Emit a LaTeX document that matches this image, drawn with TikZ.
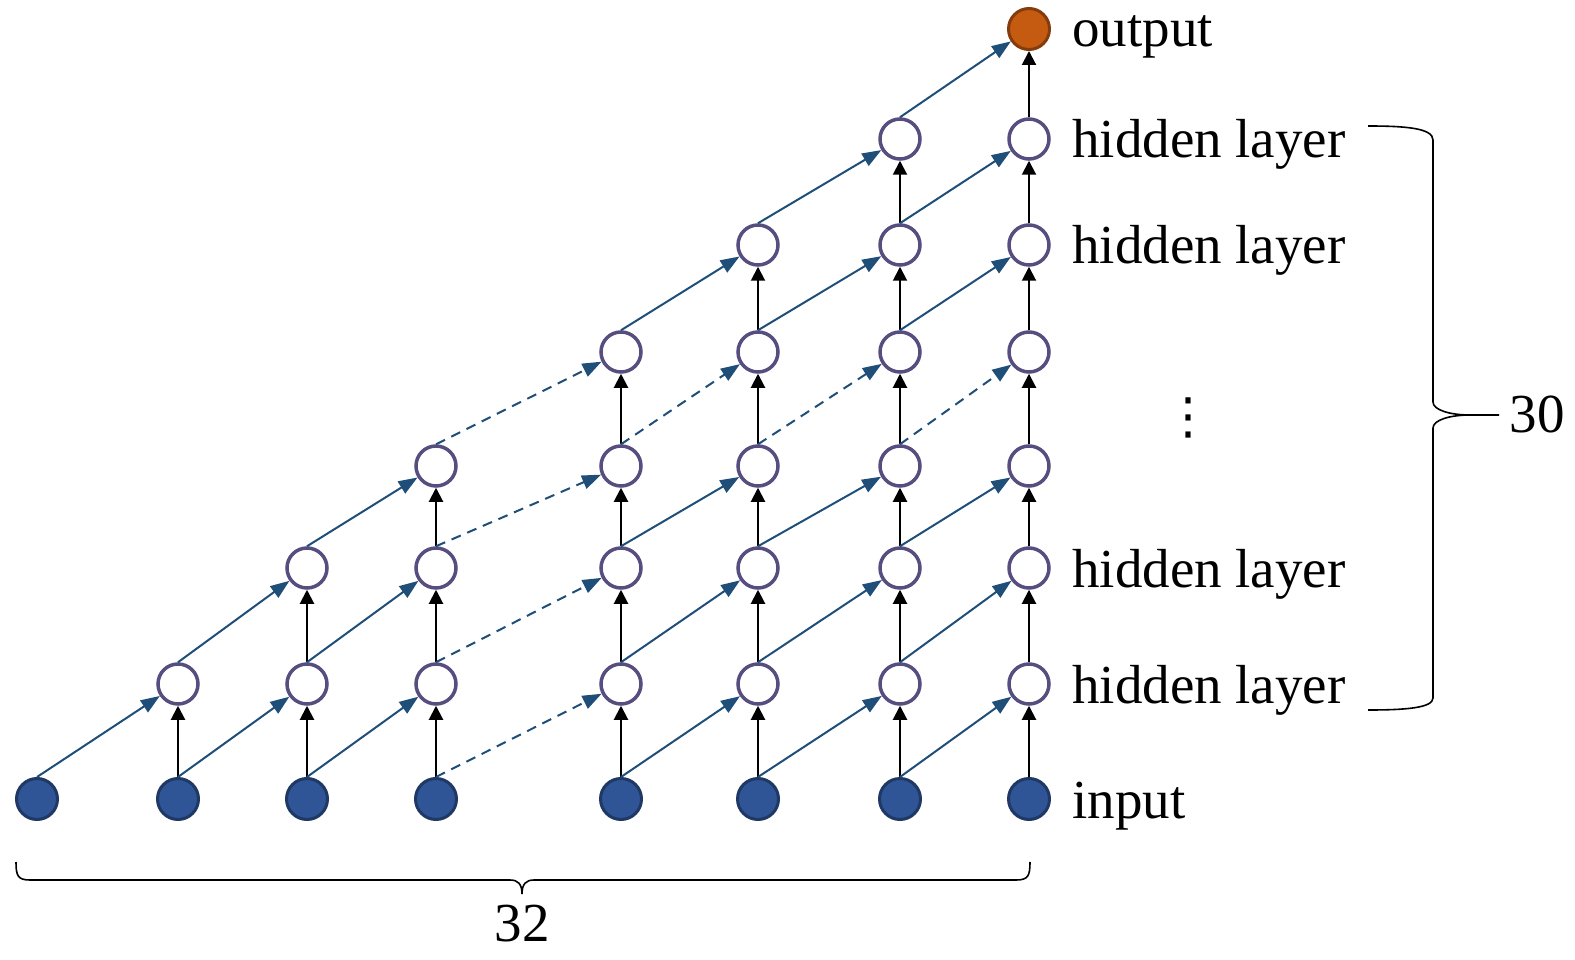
\documentclass[tikz,border=0pt]{standalone}
\usepackage{fontspec}
\setmainfont{Liberation Serif}
\newfontfamily\dvsans{DejaVu Sans}
\usetikzlibrary{arrows.meta}
\definecolor{arrblue}{RGB}{31,78,121}
\definecolor{hidborder}{RGB}{87,77,127}
\definecolor{inpfill}{RGB}{47,85,151}
\definecolor{inpborder}{RGB}{31,56,100}
\definecolor{outfill}{RGB}{197,90,17}
\definecolor{outborder}{RGB}{132,60,12}
\begin{document}
\begin{tikzpicture}[x=1pt,y=-1pt,
  hid/.style={circle,draw=hidborder,fill=white,line width=3.5pt,minimum size=40pt,inner sep=0pt},
  inp/.style={circle,draw=inpborder,fill=inpfill,line width=3pt,minimum size=41pt,inner sep=0pt},
  outp/.style={circle,draw=outborder,fill=outfill,line width=3pt,minimum size=41pt,inner sep=0pt},
  varr/.style={draw=black,line width=2pt,-{Triangle[length=14pt,width=14pt]}},
  darr/.style={draw=arrblue,line width=2pt,-{Triangle[length=19pt,width=14pt]}},
  dsh/.style={dash pattern=on 10pt off 7pt},
  lbl/.style={anchor=base west,inner sep=0pt,font=\fontsize{55}{66}\selectfont},
  brc/.style={draw=black,line width=1.6pt}]
\useasboundingbox (0,0) rectangle (1575,960);
\def\rowy{{799,684,568,466,352,245,139,29}}
% nodes
\foreach \i/\x in {0/37,1/178,2/307,3/436,4/621,5/758,6/900,7/1029}{
  \node[inp] (n-\i-0) at (\x,799) {};
  \ifnum\i>0
    \pgfmathtruncatemacro\tp{min(\i,6)}
    \foreach \r in {1,...,\tp}{
      \pgfmathsetmacro\yy{\rowy[\r]}
      \node[hid] (n-\i-\r) at (\x,\yy) {};
    }
  \fi
}
\node[outp] (n-7-7) at (1029,29) {};
% vertical arrows
\foreach \i in {1,...,7}{
  \pgfmathtruncatemacro\tp{\i-1}
  \foreach \r in {0,...,\tp}{
    \pgfmathtruncatemacro\rr{\r+1}
    \draw[varr] (n-\i-\r.north) -- (n-\i-\rr.south);
  }
}
% diagonal arrows
\foreach \i in {0,...,6}{
  \pgfmathtruncatemacro\ii{\i+1}
  \foreach \r in {0,...,\i}{
    \pgfmathtruncatemacro\rr{\r+1}
    \pgfmathtruncatemacro\isd{(\i==3)||(\r==3)}
    \ifnum\isd=1
      \draw[darr,dsh] (n-\i-\r.north) -- (n-\ii-\rr);
    \else
      \draw[darr] (n-\i-\r.north) -- (n-\ii-\rr);
    \fi
  }
}
% labels
\node[lbl] (l-out) at (1072,47) {output};
\node[lbl] (l-h6) at (1072,158) {hidden layer};
\node[lbl] (l-h5) at (1072,264) {hidden layer};
\node[lbl] (l-h2) at (1072,587) {hidden layer};
\node[lbl] (l-h1) at (1072,703) {hidden layer};
\node[lbl] (l-in) at (1072,818) {input};
\node[inner sep=0pt,font=\dvsans\fontsize{50}{60}\selectfont] (dots) at (1188,418) {⋮};
% right brace
\draw[brc] (1368,126) .. controls (1405,126) and (1433,128) .. (1433,140)
  -- (1433,402) .. controls (1433,410) and (1450,415) .. (1470,415) -- (1499,415);
\draw[brc] (1470,415) .. controls (1450,415) and (1433,420) .. (1433,428)
  -- (1433,698) .. controls (1433,708) and (1405,710) .. (1368,710);
\node[inner sep=0pt,font=\fontsize{55}{66}\selectfont] (n30) at (1537,414) {30};
% bottom brace
\draw[brc] (16,862) .. controls (16,876) and (18,880) .. (30,880) -- (510,880)
  .. controls (518,880) and (522,884) .. (522,894);
\draw[brc] (522,894) .. controls (522,884) and (526,880) .. (534,880) -- (1016,880)
  .. controls (1028,880) and (1030,876) .. (1030,862);
\node[inner sep=0pt,font=\fontsize{55}{66}\selectfont] (n32) at (522,924) {32};
\end{tikzpicture}
\end{document}
